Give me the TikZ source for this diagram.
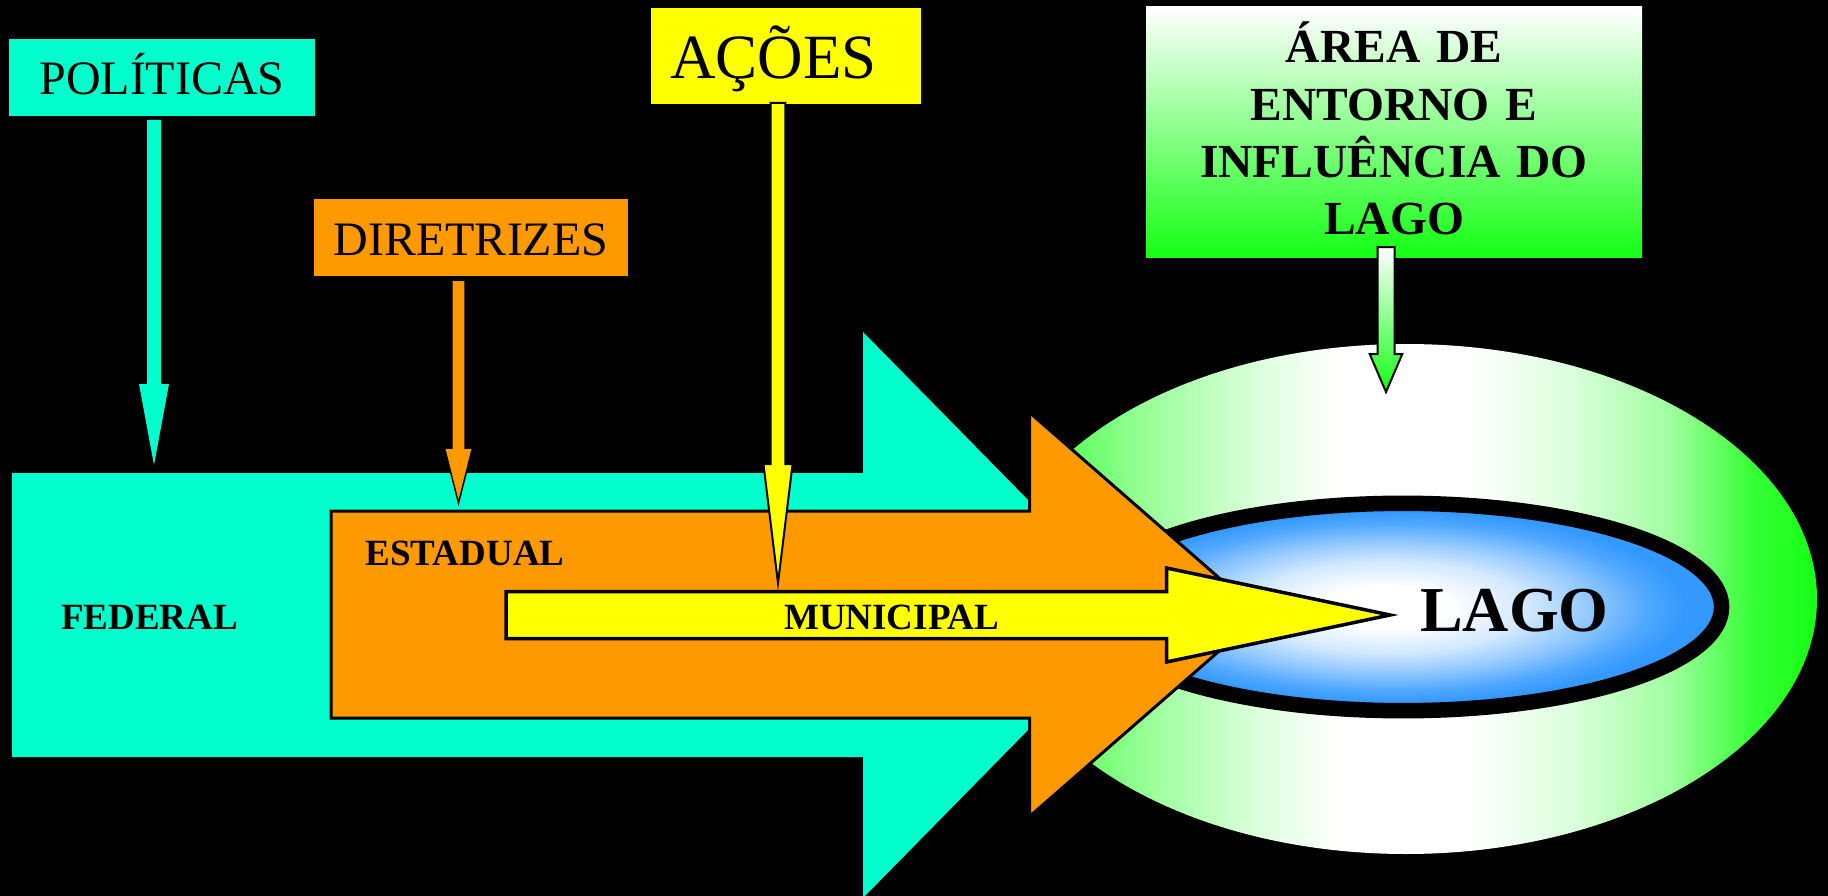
\documentclass[tikz,border=0pt]{standalone}
\usepackage{fontspec}
\setmainfont{Liberation Serif}
\definecolor{cy}{RGB}{0,255,204}
\definecolor{orng}{RGB}{255,153,0}
\definecolor{yel}{RGB}{255,255,0}
\definecolor{gr}{RGB}{20,255,20}
\definecolor{lb}{RGB}{51,153,255}
\colorlet{grA}{gr!85!white}
\colorlet{grB}{gr!65!white}
\colorlet{grC}{gr!40!white}
\colorlet{grD}{gr!15!white}
\colorlet{lbA}{lb!22!white}
\colorlet{lbB}{lb!55!white}
\colorlet{lbC}{lb!85!white}
\pgfdeclarehorizontalshading{ringshade}{100bp}{color(0bp)=(gr); color(25bp)=(gr); color(30bp)=(grB); color(35bp)=(grC); color(41bp)=(grD); color(46bp)=(white); color(54bp)=(white); color(60bp)=(grD); color(66bp)=(grC); color(71bp)=(grA); color(75bp)=(gr); color(100bp)=(gr)}
\pgfdeclareradialshading{lakeshade}{\pgfpoint{-1.5bp}{0bp}}{color(0bp)=(white); color(5bp)=(white); color(11bp)=(lbA); color(16bp)=(lbB); color(20bp)=(lbC); color(23bp)=(lb); color(50bp)=(lb)}
\newcommand\blockdown[7]{% style, x, ytop, yhead, ytip, shaft half, head half
  \path[#1] ({#2-#6},#3) -- ({#2+#6},#3) -- ({#2+#6},#4) -- ({#2+#7},#4) -- (#2,#5) -- ({#2-#7},#4) -- ({#2-#6},#4) -- cycle;}
\newcommand\blockright[7]{% style, xleft, yc, xhead, xtip, shaft half, head half
  \path[#1] (#2,{#3-#6}) -- (#4,{#3-#6}) -- (#4,{#3-#7}) -- (#5,#3) -- (#4,{#3+#7}) -- (#4,{#3+#6}) -- (#2,{#3+#6}) -- cycle;}
\begin{document}
\begin{tikzpicture}[x=1pt,y=-1pt,
  box/.style={rectangle, inner sep=0pt, anchor=center},
  lbl/.style={inner sep=0pt, anchor=base west, font=\bfseries\fontsize{37}{44}\selectfont},
  outl/.style={draw=black, line join=miter}]
\useasboundingbox (0,0) rectangle (1828,896);
\fill[black] (0,0) rectangle (1828,896);
% influence ring and lake
\shade[shading=ringshade] (1406,599) ellipse [x radius=411pt, y radius=255pt];
\shade[shading=lakeshade] (1403,607) ellipse [x radius=318.6pt, y radius=103.7pt];
\draw[line width=15.5pt] (1403,607) ellipse [x radius=318.6pt, y radius=103.7pt];
\node[lbl, font=\bfseries\fontsize{64}{77}\selectfont] (lago) at (1420,631) {LAGO};
% big arrows
\blockright{fill=cy}{12}{615}{863}{1141}{142}{283}
\blockright{fill=orng, outl, line width=3pt}{331}{614.5}{1029.5}{1261}{103.5}{202}
\blockright{fill=yel, outl, line width=3.5pt}{506}{615}{1166.5}{1390}{23.5}{47}
\node[lbl] (fed) at (61,629) {FEDERAL};
\node[lbl] (est) at (365.5,565) {ESTADUAL};
\node[lbl] (mun) at (784,629) {MUNICIPAL};
% boxes
\node[box, fill=cy, minimum width=306pt, text height=56pt, text depth=21pt,
  font=\fontsize{48}{58}\selectfont] (pol) at (162,77.5) {POLÍTICAS};
\node[box, fill=orng, minimum width=314pt, text height=56pt, text depth=21pt,
  font=\fontsize{48}{58}\selectfont] (dir) at (471,237.5) {DIRETRIZES};
\node[box, fill=yel, minimum width=270pt, text height=71pt, text depth=25pt,
  font=\fontsize{63}{76}\selectfont] (acoes) at (786,56) {AÇÕES\hspace*{25pt}};
\node[box, top color=white, middle color=gr!25!white, bottom color=gr,
  text width=496pt, align=center, text height=56pt, text depth=194pt,
  font=\bfseries\fontsize{47.5}{57.3}\selectfont] (area) at (1394,132)
  {ÁREA DE\\ENTORNO E\\INFLUÊNCIA DO\\LAGO};
% small arrows
\blockdown{fill=cy}{154}{120}{384}{465}{7}{15}
\blockdown{fill=orng, outl, line width=1.5pt}{458.5}{280}{448}{503}{6.7}{14}
\blockdown{fill=yel, outl, line width=2pt}{778}{103}{464}{583}{7.3}{14.6}
\blockdown{top color=white, bottom color=gr, outl, line width=2pt}{1386}{247}{354}{392}{8.5}{16.3}
\end{tikzpicture}
\end{document}
